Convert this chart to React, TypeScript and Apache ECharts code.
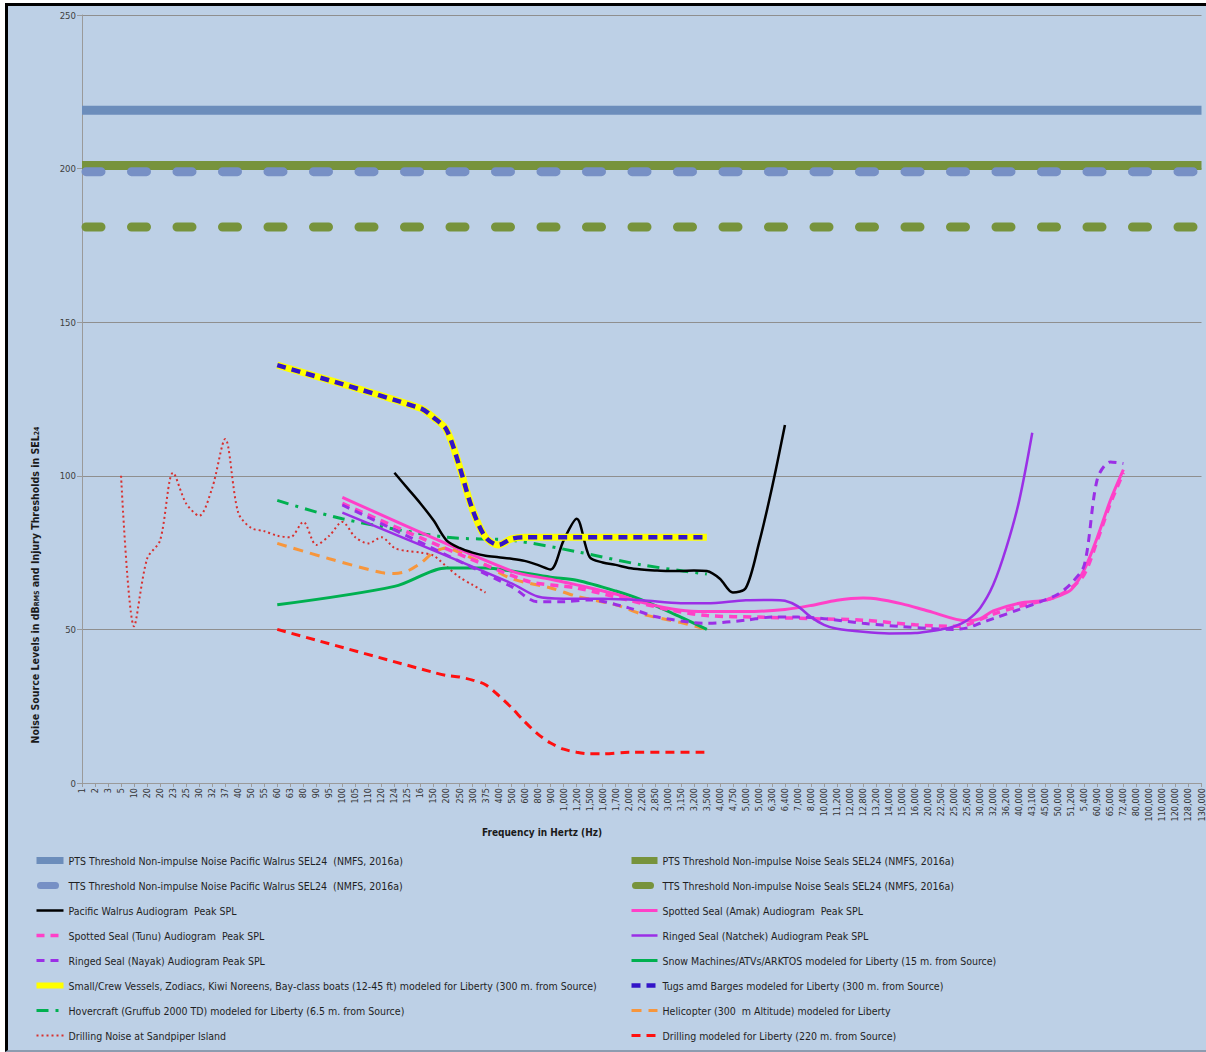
import React, { useEffect, useRef } from 'react';
import * as echarts from 'echarts';

const FONT = "'DejaVu Sans Condensed', 'Liberation Sans Narrow', 'Open Sans', sans-serif";

const categories = ['1','2','3','5','10','20','20','23','25','30','32','37','40','50','55','60','63','80','90','95','100','105','110','120','124','125','16','150','200','250','300','375','400','500','600','800','900','1,000','1,200','1,500','1,600','1,700','2,000','2,200','2,850','3,000','3,150','3,200','3,500','4,000','4,750','5,000','5,000','6,300','6,400','7,000','8,000','10,000','11,200','12,000','12,800','13,200','14,000','15,000','16,000','20,000','22,500','25,000','25,600','30,000','32,000','36,200','40,000','43,100','45,000','50,000','51,200','5,400','60,900','65,000','72,400','80,000','100,000','110,000','120,000','128,000','130,000'];

const yMin = 0;
const yMax = 250;
const yStep = 50;

// [category index, dB]
const ptsWalrus = [[0, 219], [86, 219]];
const ptsSeals = [[0, 201], [86, 201]];
const ttsWalrus = [[0, 199], [86, 199]];
const ttsSeals = [[0, 181], [86, 181]];

const walrusAudiogram = [[24, 101], [25, 96], [26, 91], [27, 85.5], [28, 79], [29, 76.5], [30, 75], [31, 74], [32, 73.5], [33, 73], [34, 72.3], [35, 71], [36, 69.5], [37, 79], [38, 86], [39, 73.5], [40, 71.8], [41, 71], [42, 70], [43, 69.5], [44, 69.2], [45, 69], [46, 69], [47, 69.2], [48, 69], [49, 66.5], [50, 62], [51, 63.5], [52, 78], [53, 96], [54, 116.5]];

const spottedAmak = [[20, 93], [33, 69], [36, 66.3], [38, 64.5], [41, 61.5], [43, 58.8], [46, 56.2], [48, 55.8], [51, 55.8], [54, 56.5], [56, 57.8], [58, 59.5], [60, 60.2], [61, 60], [63, 58.3], [65, 56], [68, 52.8], [69, 53.5], [70, 56], [72, 58.5], [74, 59.5], [75, 60.8], [76, 63], [77, 69.5], [78, 80], [79, 92], [80, 102]];

const spottedTunu = [[20, 91], [34, 66], [38, 63.5], [42, 59.5], [45, 56.5], [48, 54.5], [52, 54], [56, 53.5], [60, 53], [64, 51.5], [67, 51], [68, 51.5], [70, 55], [72, 57.5], [74, 59.5], [75, 61], [76, 63.5], [77, 68], [78, 79], [79, 91], [80, 101]];

const ringedNatchek = [[20, 88], [33, 65], [35, 60.7], [37, 60], [40, 60], [43, 59.5], [46, 58.5], [48, 58.5], [51, 59.5], [53, 59.6], [54, 59.3], [55, 57.5], [56, 54], [57, 51.5], [58, 50.2], [60, 49.2], [62, 48.7], [64, 48.8], [65, 49.3], [66, 50], [67, 51], [68, 53], [69, 57], [70, 64.5], [71, 76.5], [72, 92], [73, 114]];

const ringedNayak = [[20, 90.5], [33, 63.9], [35, 59], [37, 59], [39, 59.6], [42, 57], [44, 54.2], [47, 52.2], [48, 52], [51, 53], [53, 54], [55, 54], [57, 53.5], [60, 52], [63, 50.9], [65, 50.3], [67, 50], [68, 50.5], [69, 52], [70, 53.5], [72, 56.5], [74, 59.6], [75, 61.5], [76, 65], [77, 71], [78, 99], [79, 104.5], [80, 104]];

const snowMachines = [[15, 58], [24, 64], [28, 70], [31, 70], [33, 69], [36, 67], [38, 66], [41, 62.5], [43, 59.6], [46, 54], [48, 50]];

const smallVessels = [[15, 136], [26, 122], [27, 119], [28, 115], [29, 103], [30, 89], [31, 80], [32, 77.5], [33, 79.5], [34, 80], [48, 80]];
const tugsBarges = [[15, 136], [26, 122], [27, 119], [28, 115], [29, 103], [30, 89], [31, 80], [32, 77.5], [33, 79.5], [34, 80], [48, 80]];

const hovercraft = [[15, 92], [20, 86], [28, 80], [33, 79], [38, 75.3], [43, 71], [48, 68]];

const helicopter = [[15, 78], [19, 73], [23, 68.5], [24, 68.2], [25, 69], [26, 71.5], [27, 75], [28, 76.5], [29, 75], [31, 71], [33, 66.5], [36, 63.5], [38, 60.8], [41, 58], [43, 55], [46, 52.2], [48, 50]];

const drillingSandpiper = [[3, 100], [4, 51], [5, 73], [6, 79], [7, 101], [8, 91], [9, 87], [10, 96], [11, 112], [12, 88], [13, 83], [14, 82], [15, 80.5], [16, 80], [17, 85], [18, 77.5], [19, 80.5], [20, 85], [21, 80], [22, 78], [23, 80], [24, 76.5], [25, 75.5], [26, 75], [27, 74], [28, 70.5], [29, 67], [30, 64.5], [31, 62]];

const drillingLiberty = [[15, 50], [27, 36], [28, 35], [29, 34.5], [30, 33.5], [31, 32], [32, 28.5], [33, 24.5], [34, 20], [35, 16], [36, 13], [37, 11], [38, 10], [39, 9.5], [40, 9.5], [42, 10], [48, 10]];

const N = {
  ptsW: 'PTS Threshold Non-impulse Noise Pacific Walrus SEL24  (NMFS, 2016a)',
  ptsS: 'PTS Threshold Non-impulse Noise Seals SEL24 (NMFS, 2016a)',
  ttsW: 'TTS Threshold Non-impulse Noise Pacific Walrus SEL24  (NMFS, 2016a)',
  ttsS: 'TTS Threshold Non-impulse Noise Seals SEL24 (NMFS, 2016a)',
  walrus: 'Pacific Walrus Audiogram  Peak SPL',
  amak: 'Spotted Seal (Amak) Audiogram  Peak SPL',
  tunu: 'Spotted Seal (Tunu) Audiogram  Peak SPL',
  natchek: 'Ringed Seal (Natchek) Audiogram Peak SPL',
  nayak: 'Ringed Seal (Nayak) Audiogram Peak SPL',
  snow: 'Snow Machines/ATVs/ARKTOS modeled for Liberty (15 m. from Source)',
  small: 'Small/Crew Vessels, Zodiacs, Kiwi Noreens, Bay-class boats (12-45 ft) modeled for Liberty (300 m. from Source)',
  tugs: 'Tugs amd Barges modeled for Liberty (300 m. from Source)',
  hover: 'Hovercraft (Gruffub 2000 TD) modeled for Liberty (6.5 m. from Source)',
  heli: 'Helicopter (300  m Altitude) modeled for Liberty',
  sand: 'Drilling Noise at Sandpiper Island',
  drill: 'Drilling modeled for Liberty (220 m. from Source)',
};

function mk(name: string, data: number[][], color: string, width: number, type: any, smooth: number | boolean, cap?: string) {
  const lineStyle: any = { color, width, type };
  if (cap) {
    lineStyle.cap = cap;
    lineStyle.dashOffset = -4.5;
  }
  return {
    name,
    type: 'line',
    data,
    symbol: 'none',
    smooth,
    lineStyle,
    itemStyle: { color },
  };
}

const thick = (name: string) => ({ name, lineStyle: { width: 7 } });

export default function App() {
  const ref = useRef<HTMLDivElement>(null);
  useEffect(() => {
    if (!ref.current) return;
    const chart = echarts.init(ref.current, null, { renderer: 'svg' });
    const legendText = { fontFamily: FONT, fontSize: 10.5, color: '#1f1f1f' };
    const legendBase = {
      top: 855, orient: 'vertical', itemHeight: 12, itemGap: 14, padding: 0,
      textStyle: legendText, itemStyle: { opacity: 0 }, lineStyle: { width: 'inherit' },
    };
    chart.setOption({
      animation: false,
      backgroundColor: 'transparent',
      grid: { left: 82, right: 3, top: 15, bottom: 269, containLabel: false },
      xAxis: {
        type: 'category',
        data: categories,
        boundaryGap: false,
        axisLine: { lineStyle: { color: '#9a9a9a' } },
        axisTick: { show: true, interval: 0, length: 4, lineStyle: { color: '#9a9a9a' } },
        axisLabel: { interval: 0, rotate: 90, fontSize: 9, fontFamily: FONT, color: '#333', margin: 5 },
        splitLine: { show: false },
      },
      yAxis: {
        type: 'value',
        min: yMin,
        max: yMax,
        interval: yStep,
        axisLine: { show: true, lineStyle: { color: '#9a9a9a' } },
        axisTick: { show: true, length: 5, lineStyle: { color: '#9a9a9a' } },
        axisLabel: { fontSize: 9.5, fontFamily: FONT, color: '#404040', margin: 6 },
        splitLine: { show: true, lineStyle: { color: '#8f8f8f', width: 1.2 } },
      },
      legend: [
        {
          ...legendBase, left: 33, itemWidth: 27,
          data: [thick(N.ptsW), thick(N.ttsW), N.walrus, N.tunu, N.nayak, { name: N.small, lineStyle: { width: 6 } }, N.hover, N.sand],
        },
        {
          ...legendBase, left: 628, itemWidth: 26,
          data: [thick(N.ptsS), thick(N.ttsS), N.amak, N.natchek, N.snow, N.tugs, N.heli, N.drill],
        },
      ],
      graphic: [
        {
          type: 'text',
          x: 35,
          y: 585,
          rotation: Math.PI / 2,
          style: {
            text: '{b|Noise Source Levels in dB}{s|RMS}{b| and Injury Thresholds in SEL}{s|24}',
            align: 'center',
            verticalAlign: 'middle',
            rich: {
              b: { fontFamily: FONT, fontSize: 10.5, fontWeight: 'bold', fill: '#1a1a1a', verticalAlign: 'bottom' },
              s: { fontFamily: FONT, fontSize: 7, fontWeight: 'bold', fill: '#1a1a1a', verticalAlign: 'bottom' },
            },
          },
        },
        {
          type: 'text',
          x: 542,
          y: 832,
          style: {
            text: 'Frequency in Hertz (Hz)',
            align: 'center',
            verticalAlign: 'middle',
            fontFamily: FONT,
            fontSize: 10,
            fontWeight: 'bold',
            fill: '#1a1a1a',
          },
        },
      ],
      series: [
        mk(N.ptsW, ptsWalrus, '#6c8dbb', 9, 'solid', false),
        mk(N.ptsS, ptsSeals, '#77933c', 9, 'solid', false),
        mk(N.ttsW, ttsWalrus, '#7790c5', 9, [15, 30.5], false, 'round'),
        mk(N.ttsS, ttsSeals, '#77933c', 9, [15, 30.5], false, 'round'),
        mk(N.sand, drillingSandpiper, '#d8302f', 2, [2, 3], 0.3),
        mk(N.drill, drillingLiberty, '#ff1010', 3, [9, 6], 0.3),
        mk(N.hover, hovercraft, '#00b050', 3, [12, 7, 3, 7], 0.3),
        mk(N.heli, helicopter, '#f7963c', 3, [10, 7], 0.3),
        mk(N.snow, snowMachines, '#00b050', 3, 'solid', 0.3),
        mk(N.tunu, spottedTunu, '#ff40c8', 3.5, [8, 6], 0.3),
        mk(N.amak, spottedAmak, '#ff40c8', 3, 'solid', 0.3),
        mk(N.nayak, ringedNayak, '#9b2fe6', 3, [8, 6], 0.3),
        mk(N.natchek, ringedNatchek, '#9b2fe6', 2.5, 'solid', 0.3),
        mk(N.walrus, walrusAudiogram, '#000000', 2.5, 'solid', 0.3),
        mk(N.small, smallVessels, '#ffff00', 7, 'solid', 0.3),
        mk(N.tugs, tugsBarges, '#3314c8', 4.5, [9, 6], 0.3),
      ],
    });
    return () => chart.dispose();
  }, []);

  return (
    <div style={{ position: 'fixed', left: 0, top: 0, width: 1206, height: 1052, background: '#ffffff' }}>
      <div
        style={{
          position: 'absolute', left: 5, top: 3, width: 1198, height: 1044,
          background: '#bdd0e6', borderLeft: '3px solid #000', borderTop: '3px solid #000',
          borderBottom: '2px solid #8d9cb0',
        }}
      />
      <div ref={ref} style={{ position: 'absolute', left: 0, top: 0, width: 1206, height: 1052 }} />
    </div>
  );
}
